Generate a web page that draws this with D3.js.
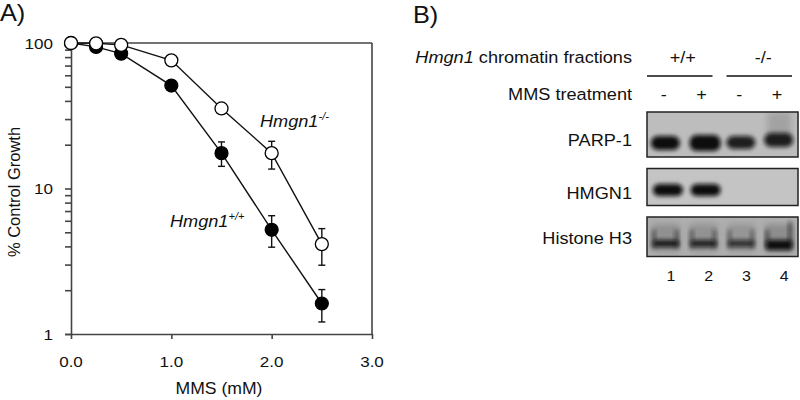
<!DOCTYPE html>
<html><head><meta charset="utf-8">
<script src="https://cdn.jsdelivr.net/npm/d3@7"></script>
<style>
body{margin:0;background:#fff;}
svg{display:block;font-family:"Liberation Sans",Arial,Helvetica,sans-serif;}
</style></head>
<body><svg id="c" width="800" height="400"></svg>
<script>
// ---------- Panel A data ----------
const doses = [0, 0.25, 0.5, 1.0, 1.5, 2.0, 2.5];
const wtGrowth = [100, 94, 84.5, 51, 17.5, 5.2, 1.62];
const wtErrHi  = [100, 94, 84.5, 51, 20.9, 6.5, 2.02];
const wtErrLo  = [100, 94, 84.5, 51, 14.2, 3.95, 1.21];
const koGrowth = [100, 99.5, 97, 76, 35.5, 17.5, 4.15];
const koErrHi  = [100, 99.5, 97, 76, 37.5, 21.1, 5.3];
const koErrLo  = [100, 99.5, 97, 76, 33.5, 13.6, 2.97];
const xTicks = [0, 1, 2, 3];
const xTickLabels = ["0.0", "1.0", "2.0", "3.0"];
const yTicks = [1, 10, 100];
const yTickLabels = ["1", "10", "100"];

// ---------- Panel B data ----------
const lanes = ["1", "2", "3", "4"];
const treatments = ["-", "+", "-", "+"];
const genotypes = ["+/+", "-/-"];
const proteins = ["PARP-1", "HMGN1", "Histone H3"];
const parpIntensity = [1.0, 1.0, 0.9, 0.9];
const hmgnIntensity = [1.0, 1.0, 0.0, 0.0];
const h3Intensity = [0.9, 0.85, 0.75, 1.0];

const svg = d3.select("#c");
const SX = 1.1; // horizontal stretch of the original figure text

function txt(g, x, y, s, size, anchor, opts = {}) {
  const t = g.append("text")
    .attr("transform", `translate(${x},${y}) scale(${SX},1)`)
    .attr("text-anchor", anchor || "start")
    .attr("font-size", size)
    .attr("fill", "#111")
    .text(s);
  if (opts.italic) t.attr("font-style", "italic");
  return t;
}

// ================= Panel A =================
const x = d3.scaleLinear().domain([0, 3]).range([71, 372]);
const y = d3.scaleLog().domain([1, 100]).range([334, 43]);

const A = svg.append("g");
txt(A, 0, 21, "A)", 23, "start");

// frame top/right
A.append("line").attr("x1", x(0)).attr("x2", x(3)).attr("y1", y(100)).attr("y2", y(100))
  .attr("stroke", "#444").attr("stroke-width", 1.6);
A.append("line").attr("x1", x(3)).attr("x2", x(3)).attr("y1", y(100)).attr("y2", y(1))
  .attr("stroke", "#444").attr("stroke-width", 1.6);

// y axis
const minor = [];
for (let d = 1; d < 100; d *= 10) for (let k = 1; k <= 10; k++) minor.push(d * k);
const yAxis = d3.axisLeft(y).tickValues(Array.from(new Set(minor))).tickSize(6).tickFormat(() => "");
const gy = A.append("g").attr("transform", `translate(${x(0)},0)`).call(yAxis);
gy.selectAll("path,line").attr("stroke", "#444").attr("stroke-width", 1.6);
yTicks.forEach((v, i) => txt(A, 53, y(v) + 5.5, yTickLabels[i], 15.5, "end"));

// x axis
const xAxis = d3.axisBottom(x).tickValues(xTicks).tickSize(5).tickSizeOuter(0).tickFormat(() => "");
const gx = A.append("g").attr("transform", `translate(0,${y(1)})`).call(xAxis);
gx.selectAll("path,line").attr("stroke", "#444").attr("stroke-width", 1.6);
xTicks.forEach((v, i) => txt(A, x(v), 366.5, xTickLabels[i], 15.5, "middle"));

txt(A, 219, 394, "MMS (mM)", 16, "middle");
A.append("text").attr("transform", `translate(20,192) rotate(-90)`)
  .attr("text-anchor", "middle").attr("font-size", 16.5).attr("fill", "#111")
  .text("% Control Growth");

// series
const line = d3.line().x(d => x(d[0])).y(d => y(d[1]));
const wt = doses.map((d, i) => [d, wtGrowth[i], wtErrLo[i], wtErrHi[i]]);
const ko = doses.map((d, i) => [d, koGrowth[i], koErrLo[i], koErrHi[i]]);
[wt, ko].forEach(s => {
  A.append("path").attr("d", line(s)).attr("fill", "none").attr("stroke", "#111").attr("stroke-width", 1.4);
});
[wt, ko].forEach(s => {
  s.filter(d => d[3] > d[2]).forEach(d => {
    const cx = x(d[0]);
    A.append("line").attr("x1", cx).attr("x2", cx).attr("y1", y(d[2])).attr("y2", y(d[3])).attr("stroke", "#111").attr("stroke-width", 1.4);
    [d[2], d[3]].forEach(v => A.append("line").attr("x1", cx - 3.5).attr("x2", cx + 3.5)
      .attr("y1", y(v)).attr("y2", y(v)).attr("stroke", "#111").attr("stroke-width", 1.4));
  });
});
A.selectAll("circle.wt").data(wt).join("circle").attr("class", "wt")
  .attr("cx", d => x(d[0])).attr("cy", d => y(d[1])).attr("r", 6.5)
  .attr("fill", "#000").attr("stroke", "#000").attr("stroke-width", 1.2);
A.selectAll("circle.ko").data(ko).join("circle").attr("class", "ko")
  .attr("cx", d => x(d[0])).attr("cy", d => y(d[1])).attr("r", 6.5)
  .attr("fill", "#fff").attr("stroke", "#000").attr("stroke-width", 1.3);

function geneLabel(g, x0, yb, sup) {
  const t = g.append("text").attr("transform", `translate(${x0},${yb}) scale(${SX},1)`)
    .attr("font-size", 16.5).attr("font-style", "italic").attr("fill", "#111");
  t.append("tspan").text("Hmgn1");
  t.append("tspan").attr("font-size", 10).attr("dy", -7).text(sup);
}
geneLabel(A, 260, 126.5, "-/-");
geneLabel(A, 170, 226.5, "+/+");

// ================= Panel B =================
const B = svg.append("g");
txt(B, 413, 23, "B)", 23, "start");

const defs = svg.append("defs");
defs.append("filter").attr("id", "blur").attr("x", "-50%").attr("y", "-50%").attr("width", "200%").attr("height", "200%")
  .append("feGaussianBlur").attr("stdDeviation", 2);
defs.append("filter").attr("id", "blur2").attr("x", "-50%").attr("y", "-50%").attr("width", "200%").attr("height", "200%")
  .append("feGaussianBlur").attr("stdDeviation", 3);
["c1", "c2", "c3"].forEach(id => defs.append("clipPath").attr("id", id));

const lx = d3.scaleBand().domain(lanes).range([647, 798]);
const lc = l => lx(l) + lx.bandwidth() / 2;

// header
const hdr = B.append("text").attr("transform", `translate(632,63) scale(${SX},1)`)
  .attr("text-anchor", "end").attr("font-size", 16.5).attr("fill", "#111");
hdr.append("tspan").attr("font-style", "italic").text("Hmgn1");
hdr.append("tspan").text(" chromatin fractions");
genotypes.forEach((gname, gi) => {
  const l0 = lanes[gi * 2], l1 = lanes[gi * 2 + 1];
  const cx = (lc(l0) + lc(l1)) / 2 + (gi === 0 ? -2 : 3);
  txt(B, cx, 63, gname, 16.5, "middle");
  B.append("line").attr("x1", lx(l0) + (gi === 0 ? 0 : 4)).attr("x2", lx(l1) + lx.bandwidth() - (gi === 0 ? 10 : 6))
    .attr("y1", 76).attr("y2", 76).attr("stroke", "#111").attr("stroke-width", 1.5);
});
txt(B, 632, 100, "MMS treatment", 16.5, "end");
treatments.forEach((t, i) => txt(B, lc(lanes[i]) - 2, 100, t, 16.5, "middle"));

const rows = [
  {name: proteins[0], y0: 112, y1: 157, bg: "#bdbdbd", vals: parpIntensity, lab: 145.5},
  {name: proteins[1], y0: 168.5, y1: 205.5, bg: "#c4c4c4", vals: hmgnIntensity, lab: 199},
  {name: proteins[2], y0: 217, y1: 256.5, bg: "#b0b0b0", vals: h3Intensity, lab: 244}
];
rows.forEach((r, ri) => {
  txt(B, 632, r.lab, r.name, 16.5, "end");
  d3.select("#c" + (ri + 1)).append("rect").attr("x", 647).attr("y", r.y0).attr("width", 151).attr("height", r.y1 - r.y0);
  const g = B.append("g").attr("clip-path", `url(#c${ri + 1})`);
  g.append("rect").attr("x", 647).attr("y", r.y0).attr("width", 151).attr("height", r.y1 - r.y0).attr("fill", r.bg);
  r.vals.forEach((v, i) => {
    if (v <= 0) return;
    const cx = lc(lanes[i]);
    if (ri === 0) {
      if (i === 3) {
        g.append("rect").attr("x", cx - 12).attr("y", r.y0).attr("width", 24).attr("height", 28)
          .attr("fill", "#888").attr("opacity", 0.5).attr("filter", "url(#blur2)");
      }
      g.append("rect").attr("x", cx - 15 + (i === 1 ? 1 : 0)).attr("y", (i === 3 ? 133 : 136) - (i === 1 ? 1 : 0))
        .attr("width", i === 1 ? 31 : 29).attr("height", i === 1 ? 16 : (i === 2 ? 13 : 14)).attr("rx", 7)
        .attr("fill", "#0a0a0a").attr("opacity", v).attr("filter", "url(#blur)");
    } else if (ri === 1) {
      g.append("rect").attr("x", cx - 13).attr("y", 184).attr("width", 30).attr("height", 12).attr("rx", 6)
        .attr("fill", "#0a0a0a").attr("opacity", v).attr("filter", "url(#blur)");
    } else {
      g.append("rect").attr("x", cx - 14).attr("y", 224).attr("width", 28).attr("height", 28)
        .attr("fill", "#6a6a6a").attr("opacity", 0.5 * v).attr("filter", "url(#blur2)");
      g.append("rect").attr("x", cx - 14).attr("y", 230).attr("width", 4).attr("height", 18)
        .attr("fill", "#222").attr("opacity", 0.6 * v).attr("filter", "url(#blur)");
      g.append("rect").attr("x", cx + 9).attr("y", i === 3 ? 222 : 230).attr("width", 4).attr("height", i === 3 ? 26 : 18)
        .attr("fill", "#222").attr("opacity", 0.6 * v).attr("filter", "url(#blur)");
      g.append("rect").attr("x", cx - 13).attr("y", 240).attr("width", 26).attr("height", i === 3 ? 10 : 7).attr("rx", 3)
        .attr("fill", "#0a0a0a").attr("opacity", v).attr("filter", "url(#blur)");
    }
  });
  B.append("rect").attr("x", 647).attr("y", r.y0).attr("width", 151).attr("height", r.y1 - r.y0)
    .attr("fill", "none").attr("stroke", "#222").attr("stroke-width", 1.5);
});
lanes.forEach(l => txt(B, lc(l) + 5, 281, l, 14.5, "middle"));
</script></body></html>
